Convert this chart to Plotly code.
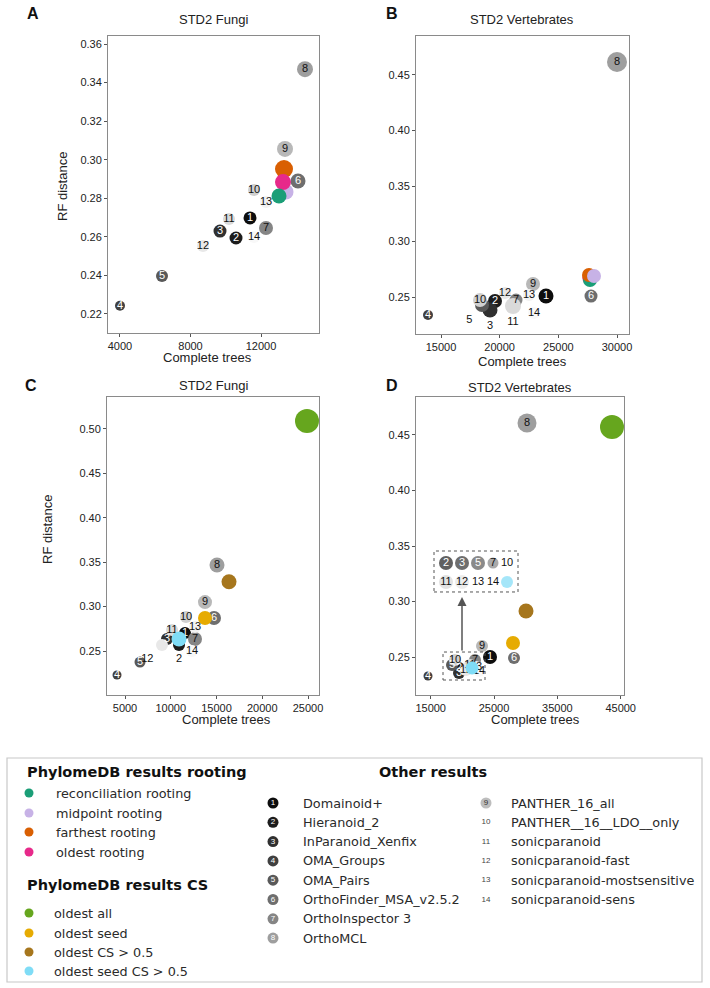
import plotly.graph_objects as go

W, H = 710, 988


def px(x):
    return x / W


def py(y):
    return 1 - y / H


# ---------------- data ----------------
TOOLS = ["Domainoid+", "Hieranoid_2", "InParanoid_Xenfix", "OMA_Groups", "OMA_Pairs",
         "OrthoFinder_MSA_v2.5.2", "OrthoInspector 3", "OrthoMCL", "PANTHER_16_all",
         "PANTHER__16__LDO__only", "sonicparanoid", "sonicparanoid-fast",
         "sonicparanoid-mostsensitive", "sonicparanoid-sens"]
TOOL_NUM = [str(i) for i in range(1, 15)]

ROOTING = ["reconciliation rooting", "midpoint rooting", "farthest rooting", "oldest rooting"]
CS = ["oldest all", "oldest seed", "oldest CS > 0.5", "oldest seed CS > 0.5"]

# Panel A: STD2 Fungi (rooting)
A_x = [11376, 10582, 9674, 4000, 6383, 14099, 12284, 14496, 13362, 11603, 10184, 8709, 12284, 11603]
A_y = [0.2698, 0.2594, 0.2630, 0.2242, 0.2397, 0.2890, 0.2646, 0.3470, 0.3056, 0.2843, 0.2693, 0.2553, 0.2781, 0.2599]
A_root_x = [13021, 13418, 13305, 13248]
A_root_y = [0.2812, 0.2833, 0.2952, 0.2884]

# Panel B: STD2 Vertebrates (rooting)
B_x = [23949, 19602, 19176, 13892, 18494, 27784, 21392, 30000, 22841, 18324, 21136, 20454, 22500, 22926]
B_y = [0.2509, 0.2464, 0.2383, 0.2338, 0.2428, 0.2509, 0.2473, 0.4617, 0.2617, 0.2473, 0.2419, 0.2536, 0.2518, 0.2356]
B_root_x = [27699, 28040, 27614, 27650]
B_root_y = [0.2653, 0.2689, 0.2698, 0.2670]

# Panel C: STD2 Fungi (CS)
C_x = [11557, 10902, 9590, 4126, 6639, 14727, 12650, 15055, 13743, 11667, 10137, 9044, 12650, 12322]
C_y = [0.2703, 0.2568, 0.2635, 0.2230, 0.2376, 0.2872, 0.2635, 0.3468, 0.3051, 0.2883, 0.2736, 0.2568, 0.2770, 0.2500]
C_cs_x = [24891, 13743, 16366, 10902]
C_cs_y = [0.5090, 0.2872, 0.3280, 0.2635]

# Panel D: STD2 Vertebrates (CS)
D_x = [24363, 19468, 19468, 14574, 18363, 28153, 21995, 30205, 23100, 18837, 21205, 20574, 22153, 22626]
D_y = [0.2500, 0.2401, 0.2356, 0.2329, 0.2428, 0.2491, 0.2473, 0.4608, 0.2599, 0.2473, 0.2428, 0.2383, 0.2410, 0.2374]
D_cs_x = [43627, 27995, 30047, 21521]
D_cs_y = [0.4572, 0.2626, 0.2914, 0.2401]

# ---------------- styles ----------------
TOOL_GREYS = ["#0d0d0d", "#1c1c1c", "#303030", "#404040", "#595959", "#6e6e6e", "#858585",
              "#9e9e9e", "#b8b8b8", "#d0d0d0", "#dadada", "#e8e8e8", "#f2f2f2", "#f8f8f8"]
ROOT_COLORS = ["#1b9e77", "#c7b2e6", "#d95f02", "#e7298a"]
CS_COLORS = ["#66a61e", "#e6ab02", "#a6761d", "#7fdcf6"]

A_size = [13, 13, 13, 10, 12, 15, 14, 16, 16, 12, 12, 12, 12, 12]
B_size = [15, 14, 15, 10, 14, 13, 13, 20, 14, 14, 16, 12, 12, 12]
C_size = [12, 12, 12, 9, 11, 14, 14, 15, 14, 12, 12, 12, 12, 12]
D_size = [14, 12, 12, 9, 12, 12, 12, 19, 12, 12, 12, 12, 12, 12]
A_root_size = [15, 15, 18, 16]
B_root_size = [14, 14, 14, 14]
C_cs_size = [24, 14, 15, 15]
D_cs_size = [24, 14, 15, 13]
A_root_order = [1, 2, 3, 0]
B_root_order = [3, 0, 2, 1]

MC = "middle center"
A_pos = [MC] * 14
B_pos = [MC, MC, "bottom center", MC, "bottom left", MC, MC, MC, MC, MC, "bottom center", MC, MC, MC]
C_pos = [MC, "bottom center", MC, MC, MC, MC, MC, MC, MC, MC, MC, "bottom left", MC, MC]
D_pos = [MC] * 14

PFONT = "Liberation Sans, Arial, sans-serif"
LFONT = "DejaVu Sans, sans-serif"

fig = go.Figure()


def tool_trace(x, y, sizes, pos, xa, ya):
    tc = ["#ffffff" if (i < 6 and pos[i] == MC) else "#111111" for i in range(14)]
    return go.Scatter(
        x=x, y=y, mode="markers+text", text=TOOL_NUM, textposition=pos,
        marker=dict(size=sizes, color=TOOL_GREYS, line=dict(width=0), opacity=1),
        textfont=dict(family=PFONT, size=11, color=tc),
        hovertext=TOOLS, hoverinfo="text+x+y",
        xaxis=xa, yaxis=ya, showlegend=False, cliponaxis=False)


def colored_trace(x, y, sizes, colors, names, order, xa, ya):
    return go.Scatter(
        x=[x[i] for i in order], y=[y[i] for i in order], mode="markers",
        marker=dict(size=[sizes[i] for i in order], color=[colors[i] for i in order],
                    line=dict(width=0), opacity=1),
        hovertext=[names[i] for i in order], hoverinfo="text+x+y",
        xaxis=xa, yaxis=ya, showlegend=False, cliponaxis=False)


fig.add_trace(tool_trace(A_x, A_y, A_size, A_pos, "x", "y"))
fig.add_trace(colored_trace(A_root_x, A_root_y, A_root_size, ROOT_COLORS, ROOTING, A_root_order, "x", "y"))
fig.add_trace(tool_trace(B_x, B_y, B_size, B_pos, "x2", "y2"))
fig.add_trace(colored_trace(B_root_x, B_root_y, B_root_size, ROOT_COLORS, ROOTING, B_root_order, "x2", "y2"))
fig.add_trace(tool_trace(C_x, C_y, C_size, C_pos, "x3", "y3"))
fig.add_trace(colored_trace(C_cs_x, C_cs_y, C_cs_size, CS_COLORS, CS, [2, 0, 1, 3], "x3", "y3"))
fig.add_trace(tool_trace(D_x, D_y, D_size, D_pos, "x4", "y4"))
fig.add_trace(colored_trace(D_cs_x, D_cs_y, D_cs_size, CS_COLORS, CS, [0, 1, 2, 3], "x4", "y4"))

# ---- inset (zoom box) in panel D ----
INSET_LABELS = ["2", "3", "5", "7", "10", "11", "12", "13", "14", ""]
INSET_COLORS = [TOOL_GREYS[1], TOOL_GREYS[2], TOOL_GREYS[4], TOOL_GREYS[6], "rgba(0,0,0,0)",
                "#d6d6d6", "#e4e4e4", "rgba(0,0,0,0)", "rgba(0,0,0,0)", CS_COLORS[3]]
INSET_TEXTC = ["#fff", "#fff", "#fff", "#111", "#111", "#111", "#111", "#111", "#111", "#111"]
INSET_SIZE = [14, 14, 14, 11, 13, 14, 14, 13, 13, 12]
INSET_X = [17416, 19942, 22468, 24837, 27047] * 2
INSET_Y = [0.3347] * 5 + [0.3176] * 5
fig.add_trace(go.Scatter(
    x=INSET_X, y=INSET_Y, mode="markers+text", text=INSET_LABELS, textposition=MC,
    marker=dict(size=INSET_SIZE, color=INSET_COLORS, line=dict(width=0)),
    textfont=dict(family=PFONT, size=11, color=INSET_TEXTC),
    hoverinfo="skip", xaxis="x4", yaxis="y4", showlegend=False, cliponaxis=False))

# ---- legend area (hidden axis in page-pixel units) ----
LEG_ROOT_Y = [793, 813, 832, 852]
LEG_CS_Y = [913, 933, 952, 971]
fig.add_trace(go.Scatter(
    x=[29] * 8, y=LEG_ROOT_Y + LEG_CS_Y, mode="markers",
    marker=dict(size=9, color=ROOT_COLORS + CS_COLORS, line=dict(width=0)),
    hoverinfo="skip", xaxis="x5", yaxis="y5", showlegend=False, cliponaxis=False))
LEG_OTHER_Y = [803 + 19.3 * i for i in range(8)] + [803 + 19.3 * i for i in range(6)]
LEG_OTHER_X = [273] * 8 + [486] * 6
GLYPH_COL = TOOL_GREYS[:8] + ["#bdbdbd"] + ["rgba(0,0,0,0)"] * 5
GLYPH_TXT = ["#fff"] * 8 + ["#333"] + ["#444"] * 5
fig.add_trace(go.Scatter(
    x=LEG_OTHER_X, y=LEG_OTHER_Y, mode="markers+text", text=TOOL_NUM, textposition=MC,
    marker=dict(size=11, color=GLYPH_COL, line=dict(width=0)),
    textfont=dict(family=PFONT, size=8, color=GLYPH_TXT),
    hoverinfo="skip", xaxis="x5", yaxis="y5", showlegend=False, cliponaxis=False))


def axis_style(**kw):
    d = dict(showline=True, mirror=True, linecolor="#8a8a8a", linewidth=1,
             ticks="outside", ticklen=3, tickwidth=1, tickcolor="#555",
             showgrid=False, zeroline=False,
             tickfont=dict(family=PFONT, size=11, color="#222"))
    d.update(kw)
    return d


layout = dict(
    width=W, height=H, autosize=False, margin=dict(l=0, r=0, t=0, b=0, autoexpand=False),
    paper_bgcolor="white", plot_bgcolor="white", showlegend=False,
    xaxis=axis_style(domain=[px(108), px(319)], range=[3320, 15290], tickvals=[4000, 8000, 12000],
                     tickformat="d", anchor="y"),
    yaxis=axis_style(domain=[py(333), py(36)], range=[0.2101, 0.3642],
                     tickvals=[0.22, 0.24, 0.26, 0.28, 0.30, 0.32, 0.34, 0.36], tickformat=".2f", anchor="x"),
    xaxis2=axis_style(domain=[px(416), px(629)], range=[12869, 31023],
                      tickvals=[15000, 20000, 25000, 30000], tickformat="d", anchor="y2"),
    yaxis2=axis_style(domain=[py(334), py(36)], range=[0.2167, 0.4851],
                      tickvals=[0.25, 0.30, 0.35, 0.40, 0.45], tickformat=".2f", anchor="x2"),
    xaxis3=axis_style(domain=[px(107), px(319)], range=[3033, 26202],
                      tickvals=[5000, 10000, 15000, 20000, 25000], tickformat="d", anchor="y3"),
    yaxis3=axis_style(domain=[py(695), py(397)], range=[0.2005, 0.5360],
                      tickvals=[0.25, 0.30, 0.35, 0.40, 0.45, 0.50], tickformat=".2f", anchor="x3"),
    xaxis4=axis_style(domain=[px(416), px(624)], range=[12679, 45521],
                      tickvals=[15000, 25000, 35000, 45000], tickformat="d", anchor="y4"),
    yaxis4=axis_style(domain=[py(695), py(397)], range=[0.2158, 0.4842],
                      tickvals=[0.25, 0.30, 0.35, 0.40, 0.45], tickformat=".2f", anchor="x4"),
    xaxis5=dict(domain=[0, 1], range=[0, W], visible=False, anchor="y5", fixedrange=True),
    yaxis5=dict(domain=[0, py(748)], range=[H, 748], visible=False, anchor="x5", fixedrange=True),
)
fig.update_layout(**layout)

ann = []


def txt(x, y, s, size=13, bold=False, font=PFONT, xanchor="center", color="#222", angle=0, ref="paper"):
    t = "<b>%s</b>" % s if bold else s
    if ref == "paper":
        pos = dict(x=px(x), y=py(y), xref="paper", yref="paper")
    else:
        pos = dict(x=x, y=y, xref="x5", yref="y5")
    ann.append(dict(text=t, showarrow=False, xanchor=xanchor, yanchor="middle", textangle=angle,
                    font=dict(family=font, size=size, color=color), **pos))


# panel letters and titles
txt(33, 14, "A", 16, True, color="#111")
txt(392, 13, "B", 16, True, color="#111")
txt(31, 386, "C", 16, True, color="#111")
txt(392, 386, "D", 16, True, color="#111")
txt(213.5, 19, "STD2 Fungi")
txt(522, 20, "STD2 Vertebrates")
txt(213, 386, "STD2 Fungi")
txt(520, 387, "STD2 Vertebrates")
# axis titles
txt(63, 187, "RF distance", angle=-90)
txt(47, 530, "RF distance", angle=-90)
txt(207, 357, "Complete trees")
txt(522, 361, "Complete trees")
txt(226, 719, "Complete trees")
txt(535, 719, "Complete trees")

# legend texts
txt(25, 772, "PhylomeDB results rooting", 14.5, True, LFONT, "left", "#111", ref="leg")
txt(25, 885, "PhylomeDB results CS", 14.5, True, LFONT, "left", "#111", ref="leg")
txt(433, 772, "Other results", 14.5, True, LFONT, "center", "#111", ref="leg")
for yy, s in zip(LEG_ROOT_Y, ROOTING):
    txt(54, yy, s, 12.8, False, LFONT, "left", "#2a2a2a", ref="leg")
for yy, s in zip(LEG_CS_Y, CS):
    txt(52, yy, s, 12.8, False, LFONT, "left", "#2a2a2a", ref="leg")
for i, s in enumerate(TOOLS):
    txt(LEG_OTHER_X[i] + (28 if i < 8 else 23), LEG_OTHER_Y[i], s, 12.8, False, LFONT, "left", "#2a2a2a", ref="leg")

# arrow in panel D
ann.append(dict(x=19942, y=0.3041, ax=19942, ay=0.2545, xref="x4", yref="y4", axref="x4", ayref="y4",
                showarrow=True, arrowhead=2, arrowsize=1.2, arrowwidth=1.5, arrowcolor="#555", text=""))

fig.update_layout(annotations=ann)

shapes = [
    dict(type="rect", xref="x4", yref="y4", x0=15521, x1=28784, y0=0.3086, y1=0.3455,
         line=dict(color="#555", width=1, dash="dot")),
    dict(type="rect", xref="x4", yref="y4", x0=16942, x1=23574, y0=0.2293, y1=0.2545,
         line=dict(color="#555", width=1, dash="dot")),
    dict(type="rect", xref="paper", yref="paper", x0=px(7), x1=px(702), y0=py(982), y1=py(758),
         line=dict(color="#c8c8c8", width=1.2)),
]
fig.update_layout(shapes=shapes)

# remove the default page margin so the 710x988 figure fills the window exactly
POST = ("document.body.style.margin='0';document.body.style.padding='0';"
        "document.documentElement.style.overflow='hidden';document.body.style.overflow='hidden';")
fig.write_html("out.html", config={"responsive": False, "displayModeBar": False}, post_script=POST)
